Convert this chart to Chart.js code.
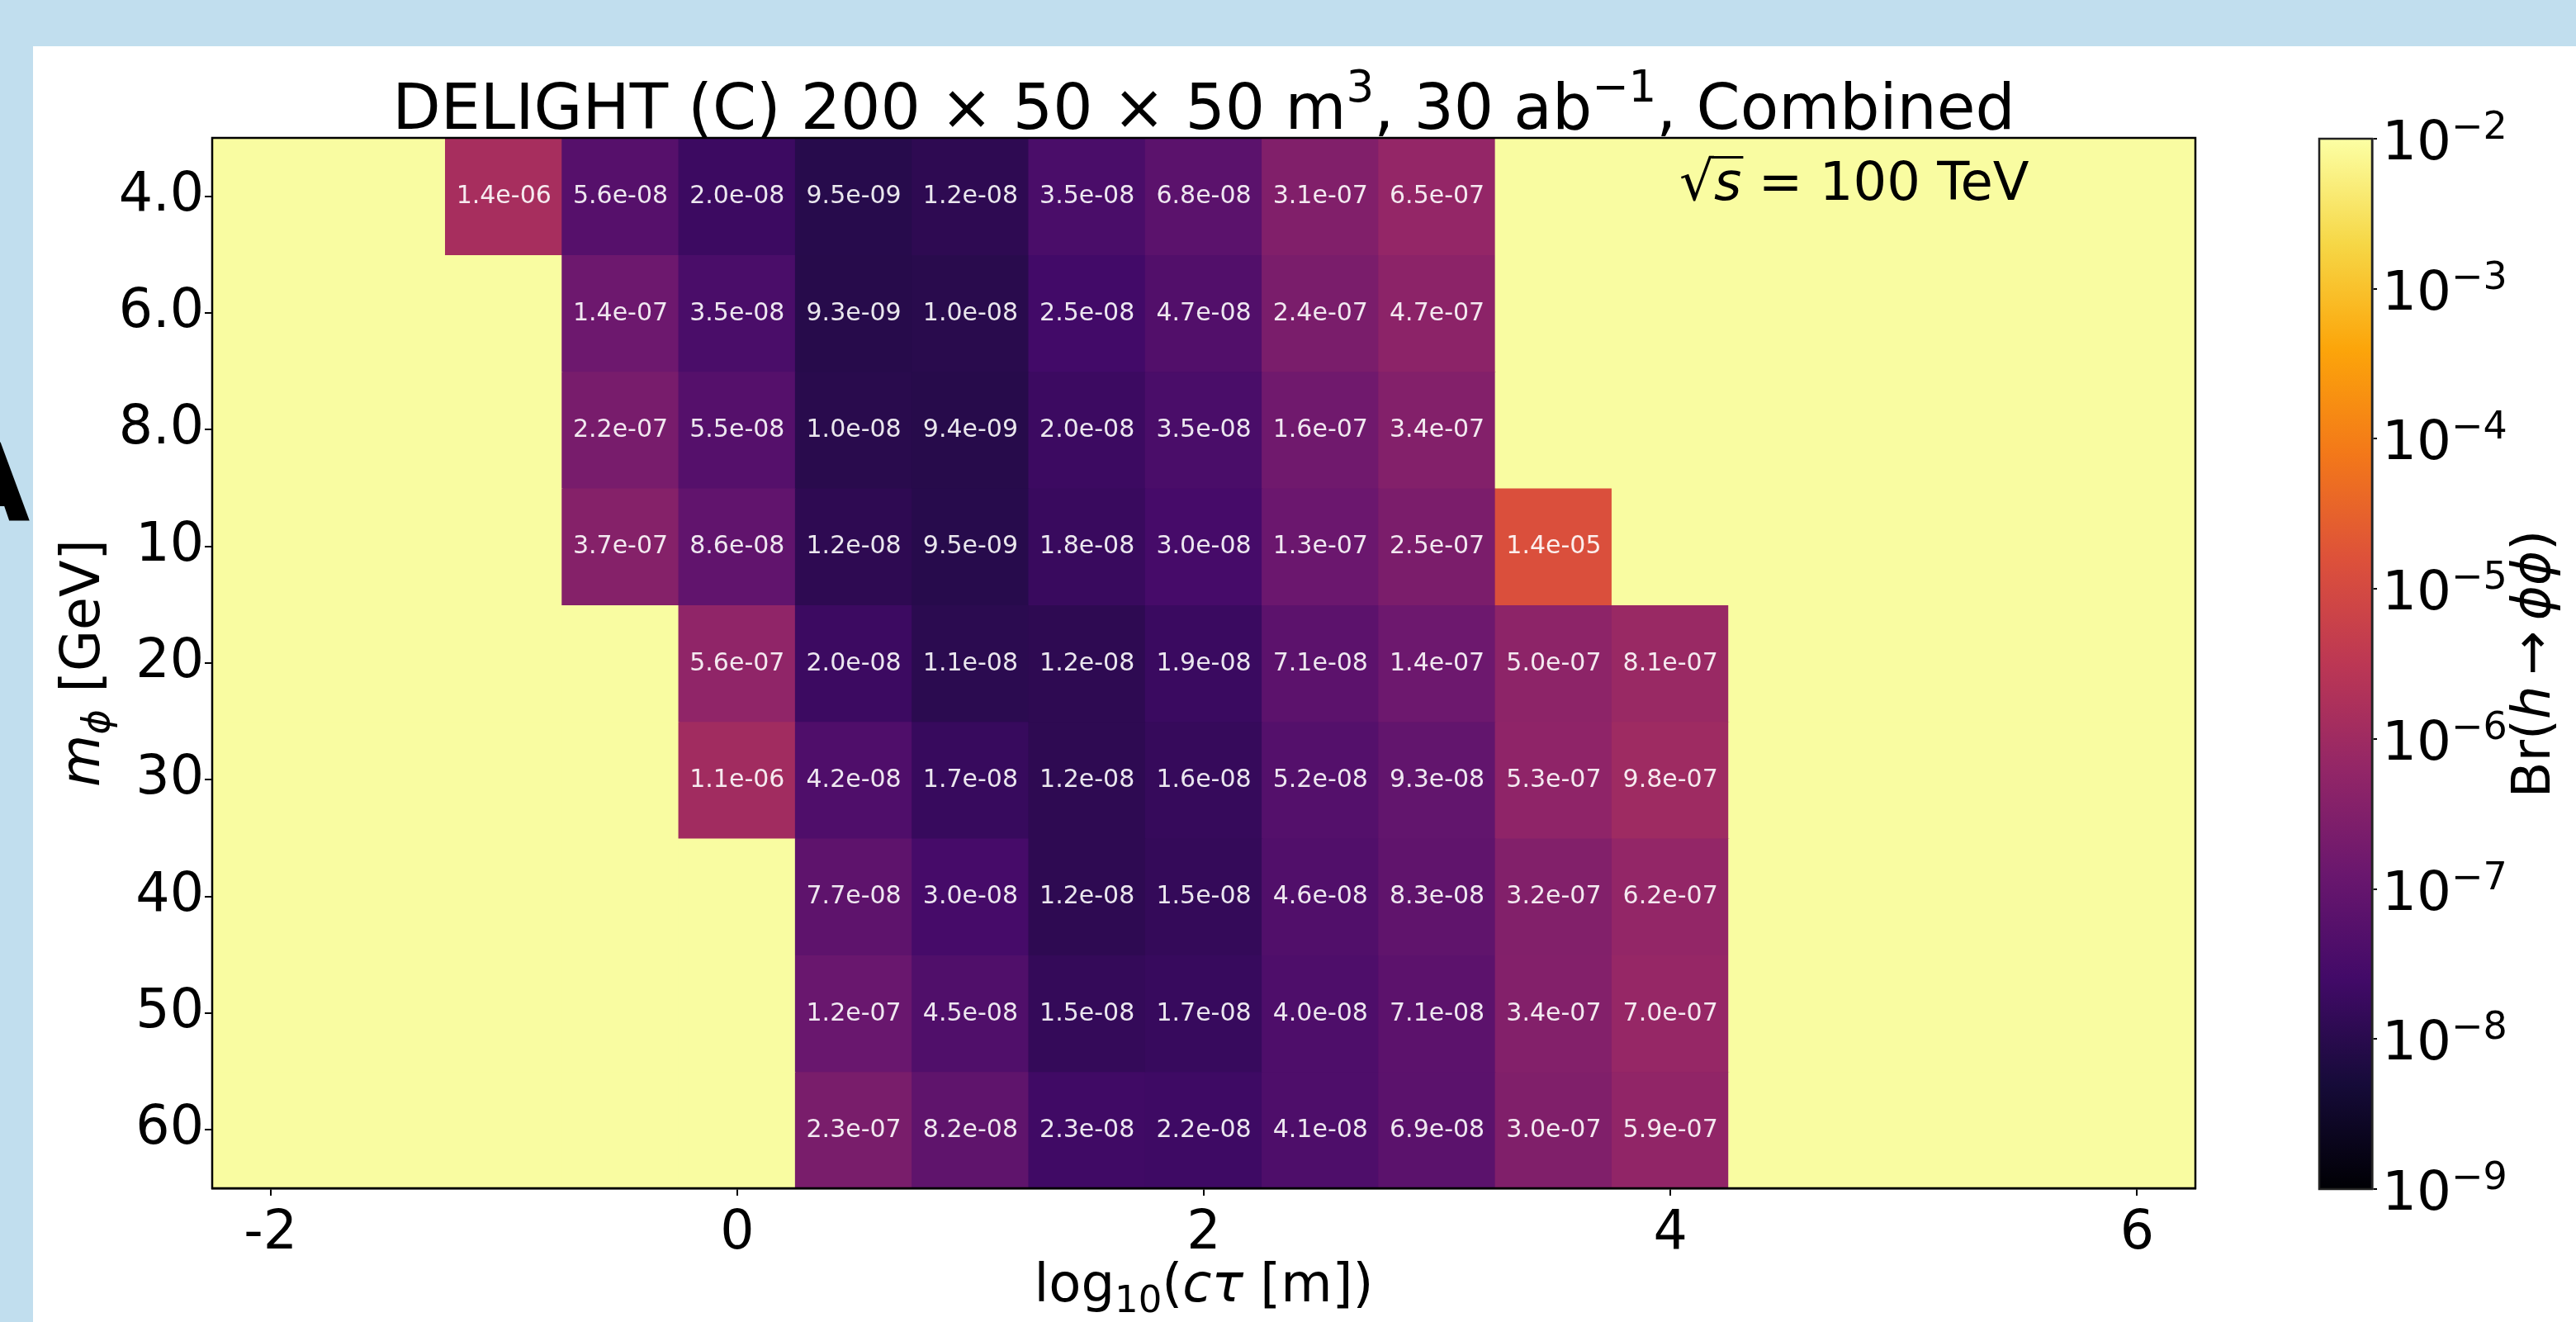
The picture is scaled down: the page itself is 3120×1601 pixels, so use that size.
<!DOCTYPE html>
<html>
<head>
<meta charset="utf-8">
<script src="https://cdn.jsdelivr.net/npm/chart.js@4.4.1/dist/chart.umd.min.js"></script>
<style>
  html, body { margin: 0; padding: 0; width: 3120px; height: 1601px; overflow: hidden; background: #c1deee; }
  #panel { position: absolute; left: 40px; top: 56px; right: 0; bottom: 0; background: #fff; }
  canvas { position: absolute; top: 0; }
  #heat { left: 0; }
  #cbar { left: 2700px; }
</style>
</head>
<body>
<div id="panel"></div>
<canvas id="heat" width="3120" height="1601"></canvas>
<canvas id="cbar" width="420" height="1601"></canvas>
<script>
// Filas: m_phi [GeV]  /  columnas: log10(c tau [m])
const masas = ['4.0', '6.0', '8.0', '10', '20', '30', '40', '50', '60'];
const log10Ctau = [-2, -1.5, -1, -0.5, 0, 0.5, 1, 1.5, 2, 2.5, 3, 3.5, 4, 4.5, 5, 5.5, 6];
const ticksX = [-2, 0, 2, 4, 6];
const ticksBarra = [1e-9, 1e-8, 1e-7, 1e-6, 1e-5, 1e-4, 1e-3, 1e-2];

// Br(h -> phi phi) por fila de masa (null = celda vacia, amarilla)
const brM4  = [null, null, 1.4e-6, 5.6e-8, 2.0e-8, 9.5e-9, 1.2e-8, 3.5e-8, 6.8e-8, 3.1e-7, 6.5e-7, null, null, null, null, null, null];
const brM6  = [null, null, null, 1.4e-7, 3.5e-8, 9.3e-9, 1.0e-8, 2.5e-8, 4.7e-8, 2.4e-7, 4.7e-7, null, null, null, null, null, null];
const brM8  = [null, null, null, 2.2e-7, 5.5e-8, 1.0e-8, 9.4e-9, 2.0e-8, 3.5e-8, 1.6e-7, 3.4e-7, null, null, null, null, null, null];
const brM10 = [null, null, null, 3.7e-7, 8.6e-8, 1.2e-8, 9.5e-9, 1.8e-8, 3.0e-8, 1.3e-7, 2.5e-7, 1.4e-5, null, null, null, null, null];
const brM20 = [null, null, null, null, 5.6e-7, 2.0e-8, 1.1e-8, 1.2e-8, 1.9e-8, 7.1e-8, 1.4e-7, 5.0e-7, 8.1e-7, null, null, null, null];
const brM30 = [null, null, null, null, 1.1e-6, 4.2e-8, 1.7e-8, 1.2e-8, 1.6e-8, 5.2e-8, 9.3e-8, 5.3e-7, 9.8e-7, null, null, null, null];
const brM40 = [null, null, null, null, null, 7.7e-8, 3.0e-8, 1.2e-8, 1.5e-8, 4.6e-8, 8.3e-8, 3.2e-7, 6.2e-7, null, null, null, null];
const brM50 = [null, null, null, null, null, 1.2e-7, 4.5e-8, 1.5e-8, 1.7e-8, 4.0e-8, 7.1e-8, 3.4e-7, 7.0e-7, null, null, null, null];
const brM60 = [null, null, null, null, null, 2.3e-7, 8.2e-8, 2.3e-8, 2.2e-8, 4.1e-8, 6.9e-8, 3.0e-7, 5.9e-7, null, null, null, null];
const filas = [brM4, brM6, brM8, brM10, brM20, brM30, brM40, brM50, brM60];

// Mapa de color inferno (escala log de 1e-9 a 1e-2)
const paradas = ['#000004', '#160b39', '#420a68', '#6a176e', '#932667', '#bc3754', '#dd513a', '#f37819', '#fca50a', '#f6d746', '#fcffa4'];
const logMin = -9, logMax = -2;
const mediaCelda = 0.25;

function hexRgb(h) {
    return [parseInt(h.slice(1, 3), 16), parseInt(h.slice(3, 5), 16), parseInt(h.slice(5, 7), 16)];
}

function colorInferno(v) {
    if (v === null) return '#f9fca1';
    let t = (Math.log10(v) - logMin) / (logMax - logMin);
    t = Math.min(1, Math.max(0, t));
    const pos = t * (paradas.length - 1);
    const i = Math.min(Math.floor(pos), paradas.length - 2);
    const f = pos - i;
    const a = hexRgb(paradas[i]), b = hexRgb(paradas[i + 1]);
    const c = a.map((x, k) => Math.round(x + (b[k] - x) * f));
    return 'rgb(' + c.join(',') + ')';
}

// 1.4e-06 como en matplotlib
function formato(v) {
    const partes = v.toExponential(1).split('e');
    const n = parseInt(partes[1]);
    return partes[0] + 'e' + (n < 0 ? '-' : '+') + String(Math.abs(n)).padStart(2, '0');
}

const fuente = (px, it) => (it ? 'italic ' : '') + px + 'px "DejaVu Sans"';

// Texto con sub/superindices
function textoRico(ctx, partes, x, y, alinear, angulo) {
    ctx.save();
    ctx.translate(x, y);
    ctx.rotate(angulo || 0);
    ctx.textAlign = 'left';
    ctx.textBaseline = 'alphabetic';
    ctx.fillStyle = '#000';
    let total = 0;
    partes.forEach(p => { ctx.font = p.f; p.w = ctx.measureText(p.t).width; total += p.w; });
    let cx = alinear === 'center' ? -total / 2 : (alinear === 'right' ? -total : 0);
    partes.forEach(p => {
        ctx.font = p.f;
        ctx.fillText(p.t, cx, p.dy || 0);
        if (p.barra) ctx.fillRect(cx - 3, p.barra, p.w + 5, 3);
        cx += p.w;
    });
    ctx.restore();
}

// Un dataset por fila de masa, una barra flotante por celda
const datasets = masas.map((m, r) => ({
    label: m,
    data: log10Ctau.map(c => ({ y: m, x: [c - mediaCelda, c + mediaCelda] })),
    valores: filas[r],
    backgroundColor: filas[r].map(colorInferno),
    borderWidth: 0,
    inflateAmount: 0.6,
    barPercentage: 1,
    categoryPercentage: 1,
    grouped: false
}));

const pluginEtiquetas = {
    id: 'etiquetas',
    afterDatasetsDraw(chart) {
        const ctx = chart.ctx;
        ctx.save();
        ctx.font = fuente(30);
        ctx.fillStyle = 'rgba(255,255,255,0.9)';
        ctx.textAlign = 'center';
        ctx.textBaseline = 'middle';
        chart.data.datasets.forEach((ds, i) => {
            chart.getDatasetMeta(i).data.forEach((barra, j) => {
                const v = ds.valores[j];
                if (v === null) return;
                const p = barra.getCenterPoint();
                ctx.fillText(formato(v), p.x, p.y + 1);
            });
        });
        const a = chart.chartArea;
        ctx.strokeStyle = '#000';
        ctx.lineWidth = 2.5;
        ctx.strokeRect(a.left, a.top, a.right - a.left, a.bottom - a.top);
        ctx.restore();
    },
    afterDraw(chart) {
        const ctx = chart.ctx;
        const a = chart.chartArea;
        const centro = (a.left + a.right) / 2;
        // titulo
        textoRico(ctx, [
            { t: 'DELIGHT (C) 200 × 50 × 50 m', f: fuente(76) },
            { t: '3', f: fuente(53), dy: -33 },
            { t: ', 30 ab', f: fuente(76) },
            { t: '−1', f: fuente(53), dy: -33 },
            { t: ', Combined', f: fuente(76) }
        ], centro, 156, 'center');
        // sqrt(s)
        textoRico(ctx, [
            { t: '√', f: fuente(66) },
            { t: 's', f: fuente(64, true), barra: -53 },
            { t: ' = 100 TeV', f: fuente(64) }
        ], 2034, 242, 'left');
        // titulos de ejes
        textoRico(ctx, [
            { t: 'log', f: fuente(64) },
            { t: '10', f: fuente(45), dy: 13 },
            { t: '(', f: fuente(64) },
            { t: 'cτ', f: fuente(64, true) },
            { t: ' [m])', f: fuente(64) }
        ], centro, 1576, 'center');
        textoRico(ctx, [
            { t: 'm', f: fuente(65, true) },
            { t: 'ϕ', f: fuente(46, true), dy: 12 },
            { t: ' [GeV]', f: fuente(65) }
        ], 120, (a.top + a.bottom) / 2, 'center', -Math.PI / 2);
        // letra del panel
        ctx.save();
        ctx.font = 'bold 130px "DejaVu Sans"';
        ctx.textAlign = 'center';
        ctx.fillStyle = '#000';
        ctx.fillText('A', -14, 630);
        ctx.restore();
    }
};

const estiloTicks = { color: '#000', font: { family: 'DejaVu Sans', size: 65 } };

new Chart(document.getElementById('heat'), {
    type: 'bar',
    data: { labels: masas, datasets: datasets },
    options: {
        indexAxis: 'y',
        responsive: false,
        animation: false,
        devicePixelRatio: 1,
        layout: { padding: { top: 167, right: 461, bottom: 0, left: 0 } },
        plugins: { legend: { display: false }, tooltip: { enabled: false } },
        scales: {
            x: {
                type: 'linear',
                min: -2.25,
                max: 6.25,
                afterBuildTicks: eje => { eje.ticks = ticksX.map(v => ({ value: v })); },
                afterFit: eje => { eje.height = 162; },
                ticks: Object.assign({ padding: 8, maxRotation: 0 }, estiloTicks),
                grid: { drawOnChartArea: false, tickLength: 9, color: '#000', lineWidth: 2 },
                border: { color: '#000', width: 2.5 }
            },
            y: {
                type: 'category',
                offset: true,
                afterFit: eje => { eje.width = 257; },
                ticks: Object.assign({ padding: 1 }, estiloTicks),
                grid: { offset: false, drawOnChartArea: false, tickLength: 9, color: '#000', lineWidth: 2 },
                border: { color: '#000', width: 2.5 }
            }
        }
    },
    plugins: [pluginEtiquetas]
});

// Barra de color
function gradiente(chart) {
    const a = chart.chartArea;
    if (!a) return 'transparent';
    const g = chart.ctx.createLinearGradient(0, a.bottom, 0, a.top);
    paradas.forEach((c, i) => g.addColorStop(i / (paradas.length - 1), c));
    return g;
}

const pluginBarra = {
    id: 'barra',
    afterDraw(chart) {
        const ctx = chart.ctx;
        const a = chart.chartArea;
        const eje = chart.scales.y;
        ctx.save();
        ctx.strokeStyle = '#222';
        ctx.lineWidth = 2.5;
        ctx.strokeRect(a.left, a.top, a.right - a.left, a.bottom - a.top);
        ctx.restore();
        ticksBarra.forEach(v => {
            const y = eje.getPixelForValue(v);
            textoRico(ctx, [
                { t: '10', f: fuente(66) },
                { t: '−' + Math.round(-Math.log10(v)), f: fuente(46), dy: -25 }
            ], a.right + 12, y + 25, 'left');
        });
        textoRico(ctx, [
            { t: 'Br(', f: fuente(64) },
            { t: 'h', f: fuente(64, true) },
            { t: '\u2009→\u2009', f: fuente(64) },
            { t: 'ϕϕ', f: fuente(64, true) },
            { t: ')', f: fuente(64) }
        ], 388, (a.top + a.bottom) / 2, 'center', -Math.PI / 2);
    }
};

new Chart(document.getElementById('cbar'), {
    type: 'bar',
    data: {
        labels: [''],
        datasets: [{
            data: [[ticksBarra[0], ticksBarra[ticksBarra.length - 1]]],
            backgroundColor: ctx => gradiente(ctx.chart),
            borderWidth: 0,
            barPercentage: 1,
            categoryPercentage: 1
        }]
    },
    options: {
        responsive: false,
        animation: false,
        devicePixelRatio: 1,
        layout: { padding: { top: 168, bottom: 161, left: 109, right: 0 } },
        plugins: { legend: { display: false }, tooltip: { enabled: false } },
        scales: {
            x: { display: false },
            y: {
                type: 'logarithmic',
                position: 'right',
                min: 1e-9,
                max: 1e-2,
                afterBuildTicks: eje => { eje.ticks = ticksBarra.map(v => ({ value: v })); },
                afterFit: eje => { eje.width = 247; },
                ticks: { display: false },
                grid: { drawOnChartArea: false, tickLength: 6, color: '#000', lineWidth: 2 },
                border: { color: '#222', width: 2.5 }
            }
        }
    },
    plugins: [pluginBarra]
});
</script>
</body>
</html>
